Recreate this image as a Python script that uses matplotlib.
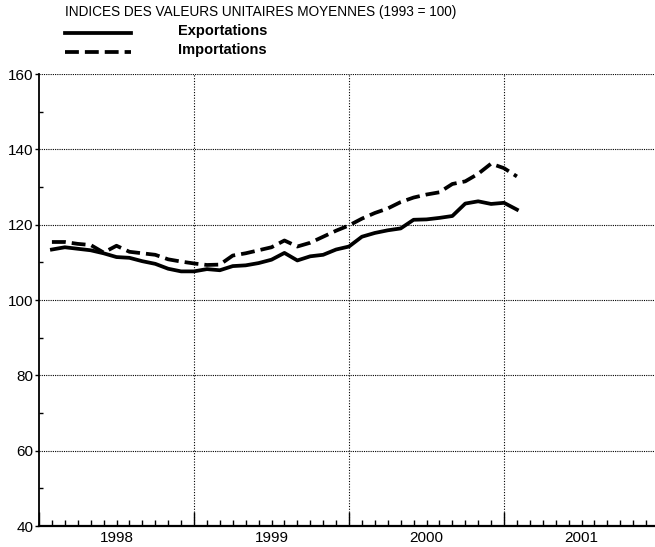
import numpy as np
import matplotlib
matplotlib.use("Agg")
import matplotlib.pyplot as plt
from matplotlib.ticker import MultipleLocator, FixedLocator

plt.rcParams['font.family'] = ['Liberation Sans', 'DejaVu Sans']

# indices mensuels, janvier 1998 -> janvier 2001 (1993 = 100)
months = np.arange(37)
exportations = [113.4, 114.0, 113.6, 113.2, 112.4, 111.4, 111.2, 110.3, 109.6, 108.3, 107.6, 107.6,
                108.2, 107.9, 109.0, 109.2, 109.8, 110.7, 112.5, 110.5, 111.6, 112.0, 113.4, 114.2,
                116.8, 117.8, 118.5, 119.0, 121.3, 121.4, 121.8, 122.3, 125.6, 126.2, 125.5, 125.8,
                124.0]
importations = [115.4, 115.4, 114.9, 114.6, 112.6, 114.4, 112.8, 112.4, 112.0, 110.8, 110.2, 109.7,
                109.3, 109.4, 111.8, 112.4, 113.2, 114.0, 115.8, 114.2, 115.2, 116.8, 118.4, 119.8,
                121.6, 123.1, 124.3, 126.0, 127.2, 128.0, 128.6, 130.8, 131.5, 133.5, 136.2, 135.0,
                132.8]
years = [1998, 1999, 2000, 2001]

# point placé en fin de mois
x = 1998 + (months + 1) / 12.0

LW = 2.7
DASH = (0, (3.7, 1.6))

fig = plt.figure(figsize=(6.55, 5.47), dpi=100)
W, H = 655, 547
ax = fig.add_axes([39 / W, (H - 526) / H, (W - 39) / W, (526 - 74) / H])

ax.plot(x, exportations, color='black', linewidth=LW, solid_joinstyle='round')
ax.plot(x, importations, color='black', linewidth=LW, linestyle=DASH)

ax.set_xlim(1998, 1998 + (W - 39) / 155.0)
ax.set_ylim(40, 160)

# axes
for s in ['top', 'right']:
    ax.spines[s].set_visible(False)
ax.spines['left'].set_linewidth(1.3)
ax.spines['bottom'].set_linewidth(1.6)

ax.yaxis.set_major_locator(MultipleLocator(20))
ax.yaxis.set_minor_locator(MultipleLocator(10))
ax.tick_params(axis='y', which='major', direction='out', length=3, width=1, labelsize=11, pad=1)
ax.tick_params(axis='y', which='minor', direction='in', length=3, width=1)

ax.xaxis.set_major_locator(FixedLocator([y for y in range(1998, 2003)]))
ax.xaxis.set_minor_locator(MultipleLocator(1 / 12.0))
ax.tick_params(axis='x', which='major', direction='in', length=10, width=1, labelbottom=False)
ax.tick_params(axis='x', which='minor', direction='in', length=4, width=1)

for yr in years:
    ax.text(yr + 0.5, -0.012, str(yr), transform=ax.get_xaxis_transform(),
            ha='center', va='top', fontsize=11)

# grille pointillée
for v in range(60, 161, 20):
    ax.axhline(v, color='black', linewidth=0.8, linestyle=(0, (1, 1)), zorder=0)
for yr in years[1:]:
    ax.axvline(yr, color='black', linewidth=0.8, linestyle=(0, (1, 1.5)), zorder=0)

# titre et légende
fig.text(65 / W, 1 - 12 / H, 'INDICES DES VALEURS UNITAIRES MOYENNES (1993 = 100)',
         ha='left', va='center', fontsize=9.8)
fig.add_artist(plt.Line2D([65 / W, 131 / W], [1 - 33 / H] * 2, color='black', linewidth=LW))
fig.add_artist(plt.Line2D([65 / W, 131 / W], [1 - 52 / H] * 2, color='black', linewidth=LW,
                          linestyle=DASH))
fig.text(178 / W, 1 - 31 / H, 'Exportations', ha='left', va='center', fontsize=10.5,
         fontweight='bold')
fig.text(178 / W, 1 - 50 / H, 'Importations', ha='left', va='center', fontsize=10.5,
         fontweight='bold')

fig.savefig('out.png', dpi=100)
